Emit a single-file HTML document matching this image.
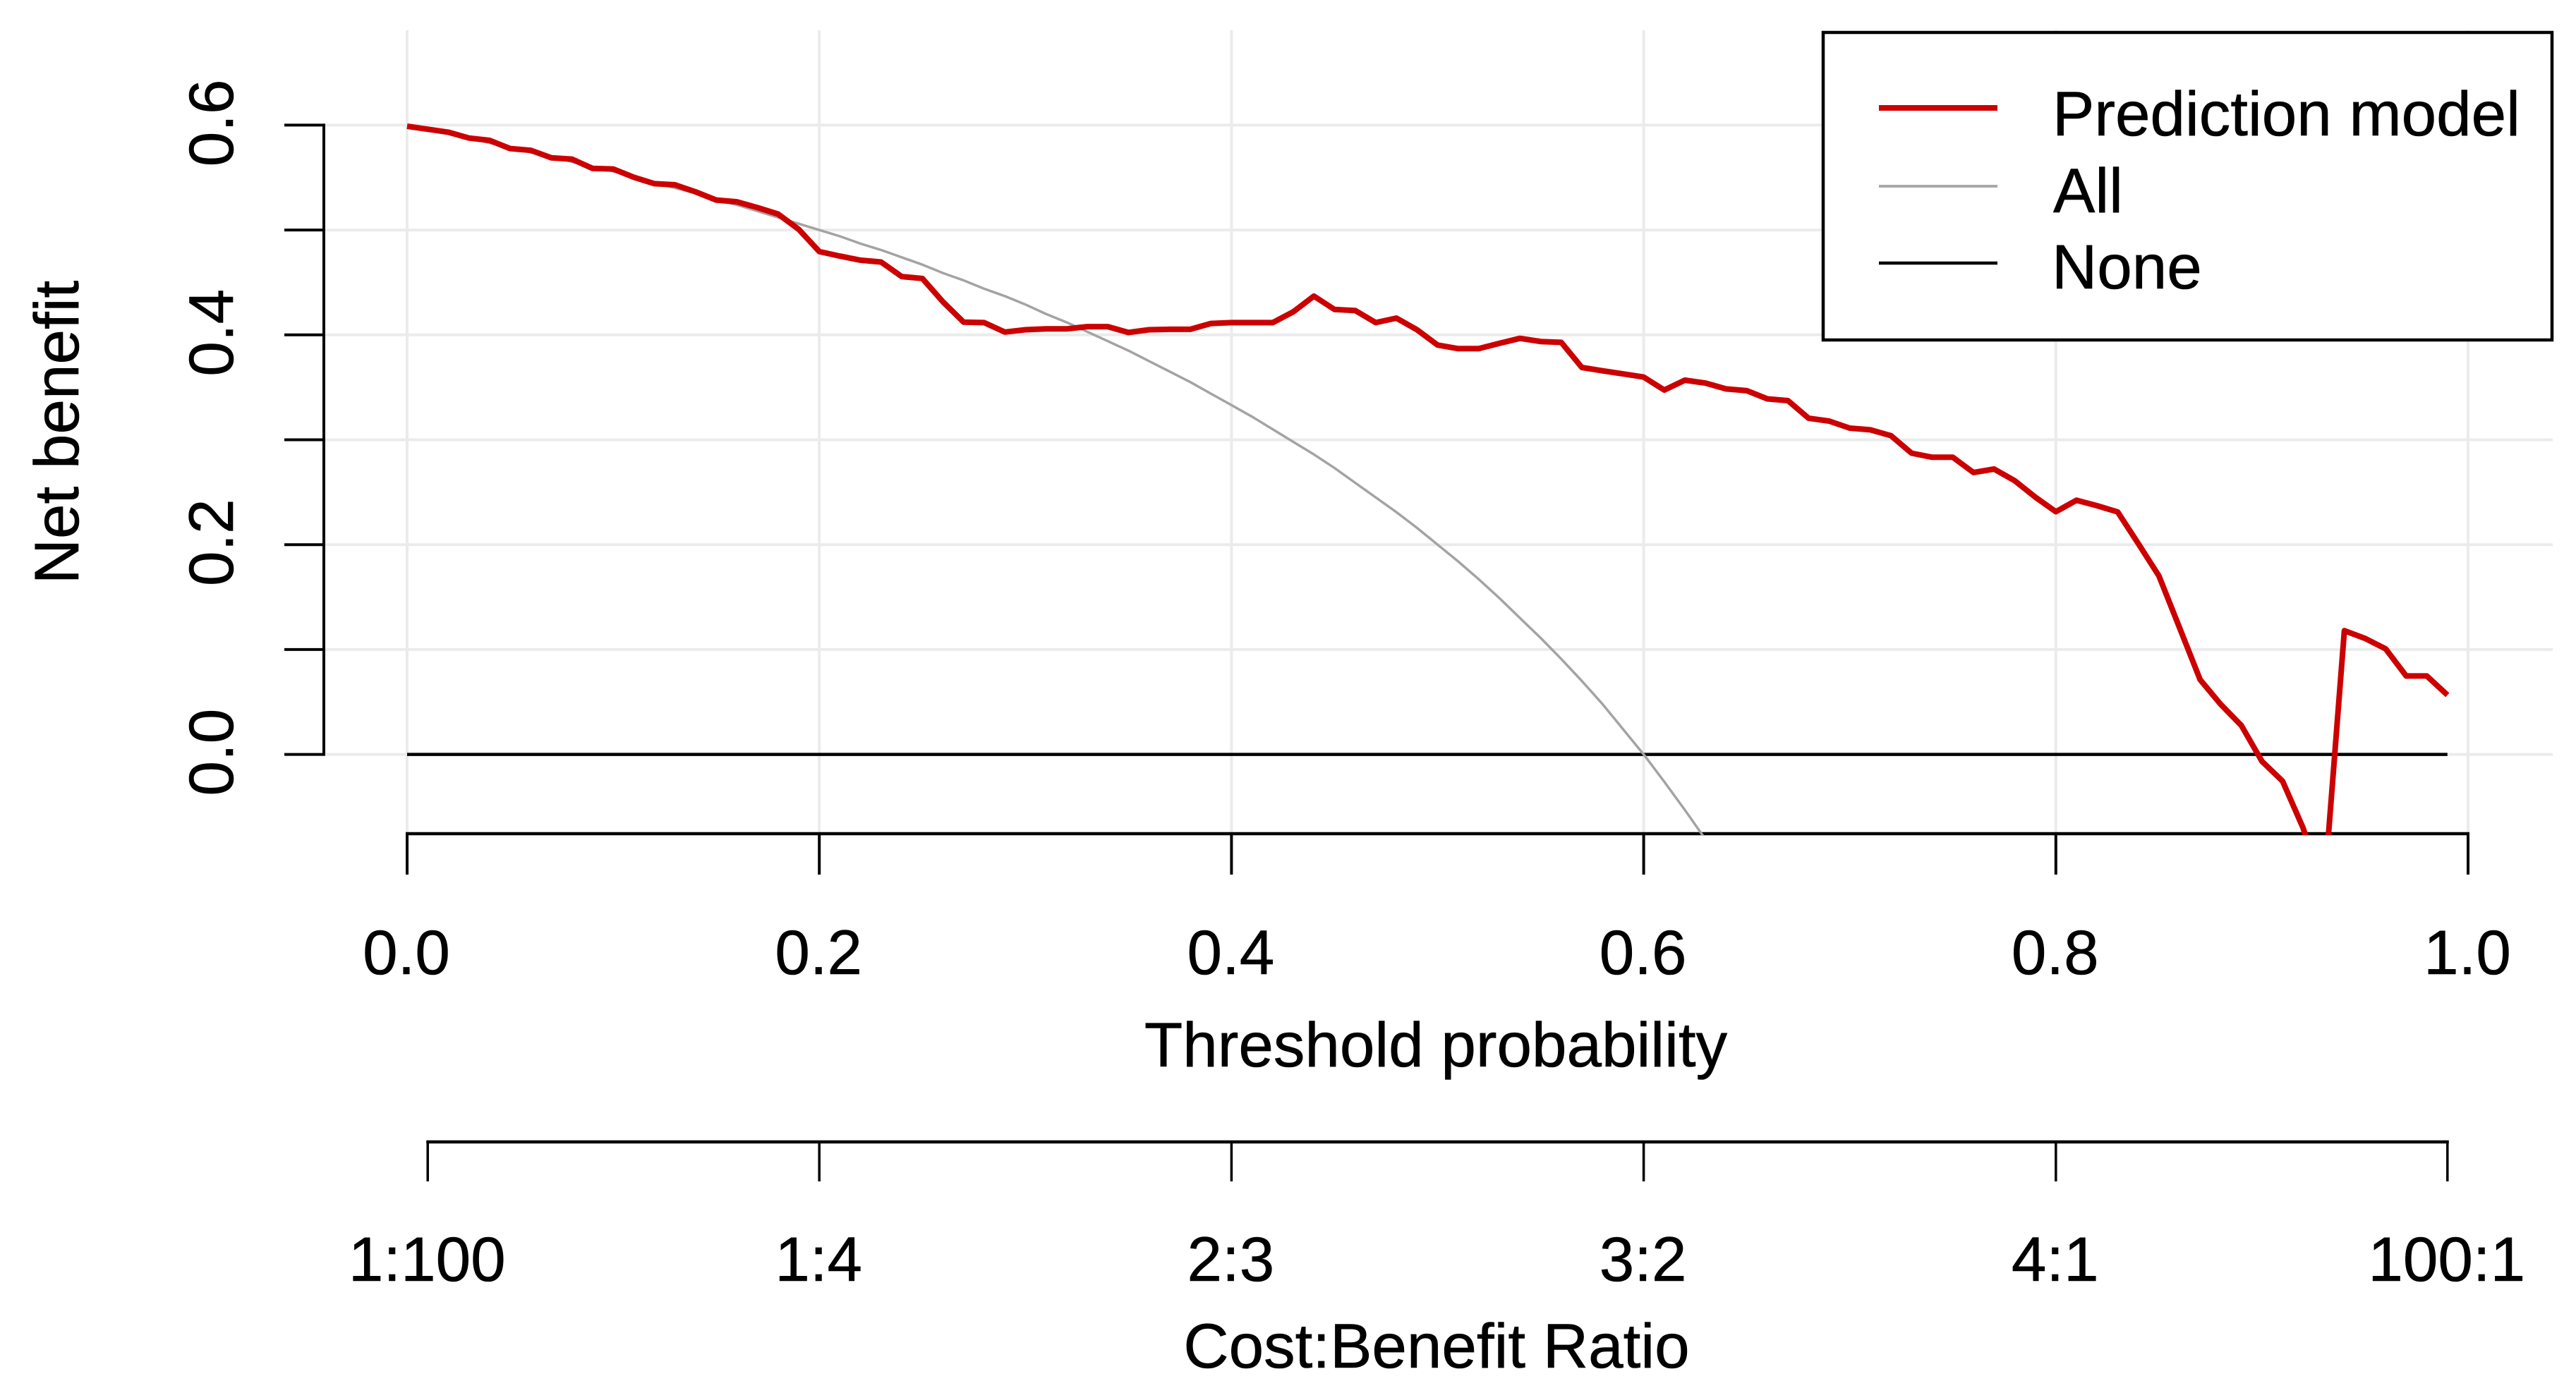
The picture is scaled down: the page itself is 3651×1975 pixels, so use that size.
<!DOCTYPE html>
<html lang="en">
<head>
<meta charset="utf-8">
<title>Decision curve: net benefit by threshold probability</title>
<style>
  html, body { margin: 0; padding: 0; background: #ffffff; }
  svg { display: block; }
  text { font-family: "Liberation Sans", Arial, sans-serif; font-size: 89px; fill: #000000; stroke: #000000; stroke-width: 0.6px; }
</style>
</head>
<body>
<svg id="chart" xmlns="http://www.w3.org/2000/svg" width="3651" height="1975" viewBox="0 0 3651 1975">
  <defs>
    <clipPath id="plot-clip"><rect x="403" y="43" width="3215" height="1141"></rect></clipPath>
  </defs>
  <rect x="0" y="0" width="3651" height="1975" fill="#ffffff"></rect>
  <g id="grid"></g>
  <g id="y-axis"></g>
  <g id="x-axis"></g>
  <g id="ratio-axis"></g>
  <g id="series" clip-path="url(#plot-clip)"></g>

  <text transform="translate(111,613) rotate(-90)" text-anchor="middle">Net benefit</text>
  <text x="2035" y="1512" text-anchor="middle">Threshold probability</text>
  <text x="2036" y="1939" text-anchor="middle">Cost:Benefit Ratio</text>

  <g>
    <rect x="2584" y="46" width="1033" height="436" fill="#ffffff" stroke="#000000" stroke-width="4.5"></rect>
    <g>
      <line x1="2663" x2="2831" y1="153" y2="153" stroke="#cc0000" stroke-width="8"></line>
      <text x="2909" y="192">Prediction model</text>
    </g>
    <g>
      <line x1="2663" x2="2831" y1="264" y2="264" stroke="#a9a9a9" stroke-width="4"></line>
      <text x="2910" y="301">All</text>
    </g>
    <g>
      <line x1="2663" x2="2831" y1="373" y2="373" stroke="#000000" stroke-width="4.5"></line>
      <text x="2908" y="409">None</text>
    </g>
  </g>
</svg>
<script>
const xTicks = [0, 0.2, 0.4, 0.6, 0.8, 1];
const xTickLabels = ["0.0", "0.2", "0.4", "0.6", "0.8", "1.0"];
const yTicks = [0, 0.1, 0.2, 0.3, 0.4, 0.5, 0.6];
const yLabelValues = [0, 0.2, 0.4, 0.6];
const yTickLabels = ["0.0", "0.2", "0.4", "0.6"];
const ratioTicks = [0.01, 0.2, 0.4, 0.6, 0.8, 0.99];
const ratioTickLabels = ["1:100", "1:4", "2:3", "3:2", "4:1", "100:1"];

const thresholds = [
  0.00, 0.01, 0.02, 0.03, 0.04, 0.05, 0.06, 0.07, 0.08, 0.09,
  0.10, 0.11, 0.12, 0.13, 0.14, 0.15, 0.16, 0.17, 0.18, 0.19,
  0.20, 0.21, 0.22, 0.23, 0.24, 0.25, 0.26, 0.27, 0.28, 0.29,
  0.30, 0.31, 0.32, 0.33, 0.34, 0.35, 0.36, 0.37, 0.38, 0.39,
  0.40, 0.41, 0.42, 0.43, 0.44, 0.45, 0.46, 0.47, 0.48, 0.49,
  0.50, 0.51, 0.52, 0.53, 0.54, 0.55, 0.56, 0.57, 0.58, 0.59,
  0.60, 0.61, 0.62, 0.63, 0.64, 0.65, 0.66, 0.67, 0.68, 0.69,
  0.70, 0.71, 0.72, 0.73, 0.74, 0.75, 0.76, 0.77, 0.78, 0.79,
  0.80, 0.81, 0.82, 0.83, 0.84, 0.85, 0.86, 0.87, 0.88, 0.89,
  0.90, 0.91, 0.92, 0.93, 0.94, 0.95, 0.96, 0.97, 0.98, 0.99
];
const predictionModel = [
  0.5989, 0.5961, 0.5933, 0.5877, 0.5855, 0.5777, 0.5760, 0.5688, 0.5676, 0.5587,
  0.5582, 0.5503, 0.5442, 0.5431, 0.5364, 0.5286, 0.5269, 0.5214, 0.5152, 0.5007,
  0.4795, 0.4751, 0.4712, 0.4695, 0.4556, 0.4538, 0.4315, 0.4122, 0.4117, 0.4027,
  0.4049, 0.4057, 0.4057, 0.4079, 0.4079, 0.4023, 0.4049, 0.4053, 0.4053, 0.4109,
  0.4117, 0.4117, 0.4117, 0.4220, 0.4370, 0.4242, 0.4233, 0.4117, 0.4160, 0.4049,
  0.3903, 0.3869, 0.3869, 0.3920, 0.3967, 0.3937, 0.3929, 0.3689, 0.3658, 0.3628,
  0.3598, 0.3474, 0.3568, 0.3541, 0.3485, 0.3468, 0.3390, 0.3373, 0.3206, 0.3178,
  0.3111, 0.3095, 0.3039, 0.2872, 0.2833, 0.2833, 0.2688, 0.2721, 0.2610, 0.2453,
  0.2314, 0.2423, 0.2371, 0.2312, 0.2010, 0.1703, 0.1208, 0.0712, 0.0477, 0.0276,
  -0.0066, -0.0255, -0.0703, -0.1340, 0.1180, 0.1106, 0.1007, 0.0748, 0.0748, 0.0566
];
const allThresholds = [
  0.00, 0.01, 0.02, 0.03, 0.04, 0.05, 0.06, 0.07, 0.08, 0.09,
  0.10, 0.11, 0.12, 0.13, 0.14, 0.15, 0.16, 0.17, 0.18, 0.19,
  0.20, 0.21, 0.22, 0.23, 0.24, 0.25, 0.26, 0.27, 0.28, 0.29,
  0.30, 0.31, 0.32, 0.33, 0.34, 0.35, 0.36, 0.37, 0.38, 0.39,
  0.40, 0.41, 0.42, 0.43, 0.44, 0.45, 0.46, 0.47, 0.48, 0.49,
  0.50, 0.51, 0.52, 0.53, 0.54, 0.55, 0.56, 0.57, 0.58, 0.59,
  0.60, 0.61, 0.62, 0.63, 0.64
];
const treatAll = [
  0.600, 0.596, 0.592, 0.588, 0.583, 0.579, 0.574, 0.570, 0.565, 0.560,
  0.556, 0.551, 0.545, 0.540, 0.535, 0.529, 0.524, 0.518, 0.512, 0.506,
  0.500, 0.494, 0.487, 0.481, 0.474, 0.467, 0.459, 0.452, 0.444, 0.437,
  0.429, 0.420, 0.412, 0.403, 0.394, 0.385, 0.375, 0.365, 0.355, 0.344,
  0.333, 0.322, 0.310, 0.298, 0.286, 0.273, 0.259, 0.245, 0.231, 0.216,
  0.200, 0.184, 0.167, 0.149, 0.130, 0.111, 0.091, 0.070, 0.048, 0.024,
  0.000, -0.026, -0.053, -0.081, -0.111
];
const noneThresholds = [0, 0.99];
const treatNone = [0, 0];

const SVG_NS = "http://www.w3.org/2000/svg";
function xScale(p) { return 577 + 2921 * p; }
function yScale(v) { return 1069.6 - 1487 * v; }

function makeLine(parent, x1, y1, x2, y2, color, width) {
  const el = document.createElementNS(SVG_NS, "line");
  el.setAttribute("x1", x1);
  el.setAttribute("y1", y1);
  el.setAttribute("x2", x2);
  el.setAttribute("y2", y2);
  el.setAttribute("stroke", color);
  el.setAttribute("stroke-width", width);
  parent.appendChild(el);
  return el;
}
function makeText(parent, content) {
  const el = document.createElementNS(SVG_NS, "text");
  el.setAttribute("text-anchor", "middle");
  el.textContent = content;
  parent.appendChild(el);
  return el;
}
function makePath(parent, xs, ys, color, width) {
  const el = document.createElementNS(SVG_NS, "polyline");
  const pts = xs.map(function (p, i) { return xScale(p).toFixed(1) + "," + yScale(ys[i]).toFixed(1); });
  el.setAttribute("points", pts.join(" "));
  el.setAttribute("fill", "none");
  el.setAttribute("stroke", color);
  el.setAttribute("stroke-width", width);
  el.setAttribute("stroke-linejoin", "round");
  parent.appendChild(el);
  return el;
}

const gridGroup = document.getElementById("grid");
yTicks.forEach(function (v) {
  const g = makeLine(gridGroup, 459, yScale(v), 3618, yScale(v), "#ebebeb", 4);
  
  
});
xTicks.forEach(function (p) {
  const g = makeLine(gridGroup, xScale(p), 43, xScale(p), 1182, "#ebebeb", 4);
  
  
});

const yGroup = document.getElementById("y-axis");
const yLine = makeLine(yGroup, 459, yScale(yTicks[yTicks.length - 1]) - 2, 459, yScale(yTicks[0]) + 2, "#000000", 4);


yTicks.forEach(function (v) {
  const t = makeLine(yGroup, 403, yScale(v), 459, yScale(v), "#000000", 4);
  
  
});
yLabelValues.forEach(function (v, i) {
  const t = makeText(yGroup, yTickLabels[i]);
  t.setAttribute("transform", "translate(330," + (yScale(v) - 3).toFixed(1) + ") rotate(-90)");
  
  
});

const xGroup = document.getElementById("x-axis");
const xLine = makeLine(xGroup, xScale(xTicks[0]) - 2, 1182, xScale(xTicks[xTicks.length - 1]) + 2, 1182, "#000000", 4.5);


xTicks.forEach(function (p, i) {
  const t = makeLine(xGroup, xScale(p), 1182, xScale(p), 1240, "#000000", 4);
  
  
  const l = makeText(xGroup, xTickLabels[i]);
  l.setAttribute("x", xScale(p) - 1);
  l.setAttribute("y", 1381);
  
  
});

const ratioGroup = document.getElementById("ratio-axis");
const ratioLine = makeLine(ratioGroup, xScale(ratioTicks[0]) - 2, 1619, xScale(ratioTicks[ratioTicks.length - 1]) + 2, 1619, "#000000", 4.5);


ratioTicks.forEach(function (p, i) {
  const t = makeLine(ratioGroup, xScale(p), 1619, xScale(p), 1675, "#000000", 3.5);
  
  
  const l = makeText(ratioGroup, ratioTickLabels[i]);
  l.setAttribute("x", xScale(p) - 1);
  l.setAttribute("y", 1816);
  
  
});

const seriesGroup = document.getElementById("series");
const noneLine = makePath(seriesGroup, noneThresholds, treatNone, "#000000", 4.5);


const allLine = makePath(seriesGroup, allThresholds, treatAll, "#a3a3a3", 3.5);


const modelLine = makePath(seriesGroup, thresholds, predictionModel, "#cc0000", 8);


</script>
</body>
</html>
